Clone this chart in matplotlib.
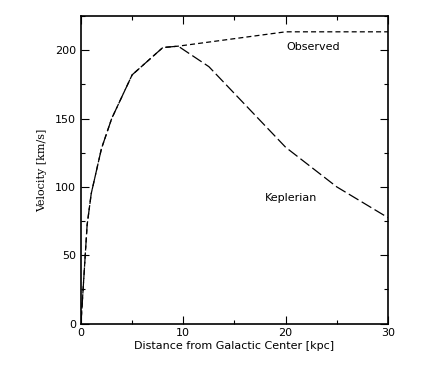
import matplotlib
matplotlib.use("Agg")
import matplotlib.pyplot as plt
from matplotlib.ticker import MultipleLocator

# rise shared by both curves (kpc, km/s)
r_inner = [0, 0.6, 1, 2, 3, 5, 8, 9.5]
v_inner = [0, 72, 95, 128, 150, 182, 202, 203]

# observed flat rotation curve
r_obs = [9.5, 20, 30]
v_obs = [203, 213.5, 213.5]

# keplerian fall-off
r_kep = [9.5, 12.5, 20, 25, 30]
v_kep = [203, 188, 129, 100, 77.5]

fig = plt.figure(figsize=(4.33, 3.66), dpi=100)
ax = fig.add_axes([0.187, 0.116, 0.709, 0.84])

# observed: short dashes, keplerian: long dashes
ax.plot(r_inner + r_obs[1:], v_inner + v_obs[1:], color="black", lw=0.9, dashes=(4, 2.5))
ax.plot(r_inner + r_kep[1:], v_inner + v_kep[1:], color="black", lw=0.9, dashes=(9, 3))

ax.text(20.1, 202.3, "Observed", fontsize=8, va="center", ha="left")
ax.text(18.0, 91.8, "Keplerian", fontsize=8, va="center", ha="left")

ax.set_xlim(0, 30)
ax.set_ylim(0, 225)
ax.xaxis.set_major_locator(MultipleLocator(10))
ax.xaxis.set_minor_locator(MultipleLocator(5))
ax.yaxis.set_major_locator(MultipleLocator(50))
ax.yaxis.set_minor_locator(MultipleLocator(25))
ax.tick_params(which="both", direction="in", top=True, right=True, labelsize=8)
ax.tick_params(which="major", length=6, width=0.8)
ax.tick_params(which="minor", length=3, width=0.8)
for s in ax.spines.values():
    s.set_linewidth(1.2)

ax.set_xlabel("Distance from Galactic Center [kpc]", fontsize=8, labelpad=2)
ax.set_ylabel("Velocity [km/s]", fontsize=8, family="DejaVu Serif", labelpad=6)

fig.savefig("out.png", dpi=100)
